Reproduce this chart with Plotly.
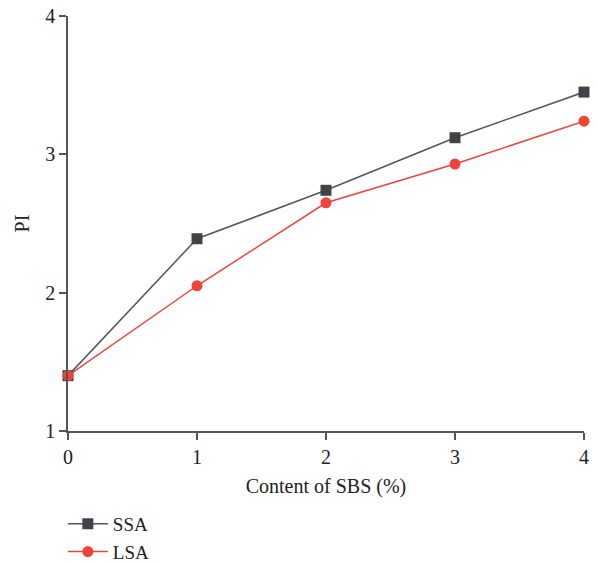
import plotly.graph_objects as go

x_vals = [0, 1, 2, 3, 4]
ssa = [1.40, 2.39, 2.74, 3.12, 3.45]
lsa = [1.40, 2.05, 2.65, 2.93, 3.24]
x_ticks = [0, 1, 2, 3, 4]
y_ticks = [1, 2, 3, 4]

FONT = "Liberation Serif"
FS = 20

fig = go.Figure()
fig.add_trace(go.Scatter(
    x=x_vals, y=ssa, name="SSA", mode="lines+markers",
    line=dict(color="#555555", width=1.5),
    marker=dict(symbol="square", size=11, color="#404448"),
))
fig.add_trace(go.Scatter(
    x=x_vals, y=lsa, name="LSA", mode="lines+markers",
    line=dict(color="#f0433a", width=1.5),
    marker=dict(symbol="circle", size=11, color="#f0433a"),
))

fig.update_layout(
    width=598, height=563,
    margin=dict(l=68, r=14, t=16, b=132, autoexpand=False),
    paper_bgcolor="white", plot_bgcolor="white",
    font=dict(family=FONT, size=FS, color="#222222"),
    showlegend=True,
    legend=dict(
        x=-0.01, y=0.103, xanchor="left", yanchor="top", yref="container",
        orientation="v", font=dict(family=FONT, size=19, color="#222222"),
        bgcolor="rgba(0,0,0,0)", tracegroupgap=0, itemwidth=40,
    ),
    xaxis=dict(
        range=[0, 4], tickvals=x_ticks, showgrid=False, zeroline=False,
        showline=True, linecolor="#555555", linewidth=1.5,
        ticks="outside", ticklen=7, tickwidth=1.5, tickcolor="#555555",
        automargin=False,
        title=dict(text="Content of SBS (%)", standoff=12,
                   font=dict(family=FONT, size=FS, color="#222222")),
    ),
    yaxis=dict(
        range=[1, 4], tickvals=y_ticks, showgrid=False, zeroline=False,
        showline=True, linecolor="#555555", linewidth=1.5,
        ticks="outside", ticklen=7, tickwidth=1.5, tickcolor="#555555",
        automargin=False,
        title=dict(text="PI", standoff=10,
                   font=dict(family=FONT, size=FS, color="#222222")),
    ),
)
fig.update_traces(cliponaxis=False)

fig.write_html("out.html")
